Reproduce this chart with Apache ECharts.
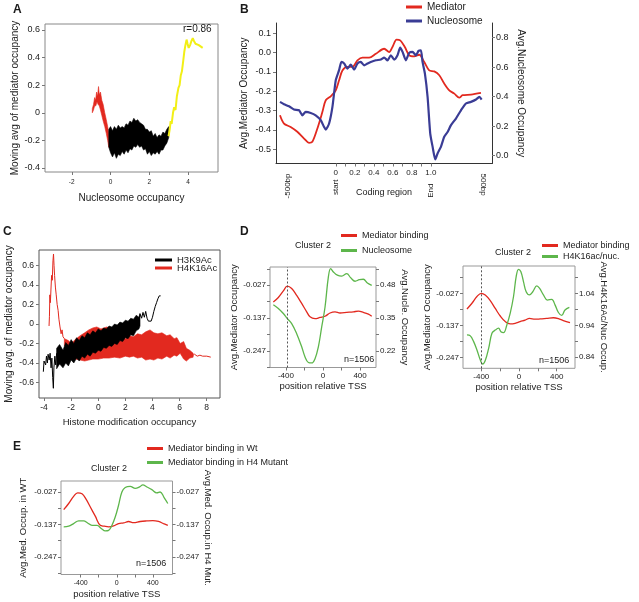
<!DOCTYPE html>
<html><head><meta charset="utf-8">
<script src="https://cdn.jsdelivr.net/npm/echarts@6/dist/echarts.min.js"></script>
<style>html,body{margin:0;padding:0;background:#fff}#c{width:639px;height:602px}</style>
</head><body><div id="c"></div>
<script>
// ---------- Panel A ----------
const A_xTicks = [-2, 0, 2, 4];
const A_xLabels = ['-2', '0', '2', '4'];
const A_yTicks = [-0.4, -0.2, 0, 0.2, 0.4, 0.6];
const A_yLabels = ['-0.4', '-0.2', '0', '0.2', '0.4', '0.6'];
const A_redUpper = [[-0.94,0.03],[-0.88,0.06],[-0.82,0.11],[-0.77,0.09],[-0.72,0.15],[-0.67,0.12],[-0.62,0.19],[-0.58,0.13],[-0.52,0.15],[-0.45,0.09],[-0.38,0.06],[-0.3,0.0],[-0.22,-0.05],[-0.15,-0.1],[-0.09,-0.15]];
const A_redLower = [[-0.94,0.0],[-0.88,0.02],[-0.82,0.05],[-0.76,0.05],[-0.7,0.08],[-0.64,0.06],[-0.58,0.05],[-0.52,0.02],[-0.45,-0.02],[-0.38,-0.06],[-0.3,-0.1],[-0.22,-0.15],[-0.15,-0.2],[-0.09,-0.25]];
const A_blackUpper = [[-0.09,-0.12],[0.0,-0.1],[0.1,-0.13],[0.2,-0.1],[0.3,-0.12],[0.4,-0.09],[0.5,-0.11],[0.6,-0.1],[0.7,-0.11],[0.8,-0.08],[0.9,-0.09],[1.0,-0.06],[1.1,-0.07],[1.2,-0.04],[1.3,-0.06],[1.4,-0.05],[1.5,-0.07],[1.6,-0.08],[1.7,-0.09],[1.8,-0.12],[1.9,-0.12],[2.0,-0.14],[2.1,-0.13],[2.2,-0.17],[2.3,-0.15],[2.4,-0.18],[2.5,-0.16],[2.6,-0.17],[2.7,-0.14],[2.8,-0.15],[2.9,-0.12],[3.0,-0.1]];
const A_blackLower = [[-0.09,-0.25],[0.0,-0.29],[0.1,-0.32],[0.2,-0.29],[0.3,-0.33],[0.4,-0.3],[0.5,-0.31],[0.6,-0.28],[0.7,-0.3],[0.8,-0.27],[0.9,-0.29],[1.0,-0.26],[1.1,-0.27],[1.2,-0.24],[1.3,-0.25],[1.4,-0.23],[1.5,-0.25],[1.6,-0.24],[1.7,-0.27],[1.8,-0.26],[1.9,-0.3],[2.0,-0.28],[2.1,-0.31],[2.2,-0.29],[2.3,-0.3],[2.4,-0.28],[2.5,-0.3],[2.6,-0.27],[2.7,-0.27],[2.8,-0.24],[2.9,-0.22],[3.0,-0.18]];
const A_yellow = [[2.99,-0.17],[3.05,-0.12],[3.1,-0.06],[3.15,-0.08],[3.22,0.0],[3.28,0.04],[3.35,0.02],[3.42,0.12],[3.5,0.18],[3.56,0.2],[3.62,0.27],[3.68,0.3],[3.75,0.38],[3.8,0.44],[3.86,0.49],[3.92,0.53],[3.97,0.5],[4.03,0.47],[4.1,0.49],[4.17,0.52],[4.24,0.54],[4.3,0.52],[4.38,0.5],[4.45,0.5],[4.55,0.49],[4.65,0.48],[4.75,0.47]];

// ---------- Panel B ----------
const B_xTicks = [0,0.1,0.2,0.3,0.4,0.5,0.6,0.7,0.8,0.9,1.0];
const B_xNumVals = [0,0.2,0.4,0.6,0.8,1.0];
const B_xNumLabels = ['0','0.2','0.4','0.6','0.8','1.0'];
const B_leftTicks = [-0.5,-0.4,-0.3,-0.2,-0.1,0,0.1];
const B_leftLabels = ['-0.5','-0.4','-0.3','-0.2','-0.1','0.0','0.1'];
const B_rightTicks = [0,0.2,0.4,0.6,0.8];
const B_rightLabels = ['0.0','0.2','0.4','0.6','0.8'];
const B_mediator = [[-0.586,-0.325],[-0.544,-0.368],[-0.474,-0.385],[-0.404,-0.41],[-0.333,-0.445],[-0.281,-0.467],[-0.246,-0.462],[-0.193,-0.393],[-0.14,-0.307],[-0.105,-0.247],[-0.053,-0.227],[0,-0.196],[0.035,-0.144],[0.07,-0.093],[0.123,-0.075],[0.175,-0.075],[0.228,-0.041],[0.281,-0.027],[0.351,-0.027],[0.421,-0.007],[0.509,0.019],[0.561,0.002],[0.596,0.028],[0.639,0.066],[0.677,0.062],[0.726,0.028],[0.772,-0.015],[0.825,-0.02],[0.877,-0.012],[0.93,-0.05],[0.982,-0.093],[1.035,-0.098],[1.088,-0.118],[1.14,-0.161],[1.193,-0.196],[1.246,-0.213],[1.298,-0.234],[1.333,-0.221],[1.421,-0.218],[1.526,-0.209]];
const B_nucleosome = [[-0.586,0.364],[-0.544,0.348],[-0.491,0.334],[-0.439,0.312],[-0.386,0.307],[-0.351,0.273],[-0.316,0.296],[-0.263,0.289],[-0.211,0.273],[-0.158,0.24],[-0.123,0.194],[-0.105,0.176],[-0.07,0.217],[-0.035,0.33],[0,0.511],[0.035,0.579],[0.06,0.635],[0.088,0.624],[0.123,0.59],[0.158,0.617],[0.193,0.583],[0.228,0.624],[0.263,0.635],[0.298,0.612],[0.333,0.624],[0.368,0.635],[0.421,0.646],[0.474,0.651],[0.509,0.664],[0.544,0.646],[0.579,0.68],[0.614,0.651],[0.649,0.68],[0.677,0.732],[0.702,0.703],[0.737,0.646],[0.772,0.696],[0.807,0.703],[0.842,0.68],[0.87,0.71],[0.895,0.714],[0.912,0.635],[0.937,0.556],[0.965,0.398],[0.993,0.149],[1.018,0.059],[1.046,-0.027],[1.07,0.014],[1.105,0.059],[1.14,0.127],[1.175,0.16],[1.211,0.206],[1.263,0.251],[1.316,0.307],[1.368,0.353],[1.421,0.364],[1.474,0.38],[1.509,0.398],[1.533,0.38]];

// ---------- Panel C ----------
const C_xTicks = [-4,-2,0,2,4,6,8];
const C_xLabels = ['-4','-2','0','2','4','6','8'];
const C_yTicks = [-0.6,-0.4,-0.2,0,0.2,0.4,0.6];
const C_yLabels = ['-0.6','-0.4','-0.2','0','0.2','0.4','0.6'];
const C_redSpike = [[-3.63,-0.02],[-3.6,0.08],[-3.57,0.3],[-3.53,0.22],[-3.49,0.35],[-3.44,0.5],[-3.39,0.45],[-3.34,0.65],[-3.3,0.72],[-3.26,0.6],[-3.22,0.5],[-3.16,0.38],[-3.1,0.3],[-3.03,0.2],[-2.96,0.14],[-2.9,0.05],[-2.82,-0.03],[-2.74,-0.1],[-2.67,-0.06],[-2.6,-0.13],[-2.5,-0.15]];
const C_redUpper = [[-2.5,-0.15],[-2.2,-0.17],[-2.0,-0.2],[-1.7,-0.16],[-1.34,-0.12],[-1.0,-0.09],[-0.7,-0.06],[-0.4,-0.04],[-0.11,-0.03],[0.2,-0.05],[0.63,-0.03],[1.0,-0.05],[1.37,-0.07],[1.7,-0.12],[2.0,-0.15],[2.3,-0.12],[2.59,-0.13],[2.9,-0.1],[3.2,-0.11],[3.5,-0.08],[3.82,-0.06],[4.1,-0.09],[4.4,-0.1],[4.7,-0.09],[5.05,-0.12],[5.3,-0.11],[5.6,-0.15],[5.8,-0.14],[6.04,-0.2],[6.3,-0.18],[6.5,-0.25],[6.75,-0.27],[7.0,-0.3]];
const C_redLower = [[-2.5,-0.22],[-2.2,-0.28],[-2.0,-0.32],[-1.7,-0.36],[-1.34,-0.37],[-1.0,-0.38],[-0.7,-0.37],[-0.4,-0.36],[0,-0.36],[0.4,-0.35],[0.8,-0.35],[1.2,-0.34],[1.6,-0.35],[2.0,-0.33],[2.3,-0.34],[2.59,-0.33],[2.9,-0.35],[3.2,-0.34],[3.5,-0.37],[3.82,-0.36],[4.1,-0.37],[4.4,-0.35],[4.7,-0.36],[5.05,-0.33],[5.3,-0.35],[5.6,-0.32],[5.8,-0.33],[6.04,-0.3],[6.3,-0.36],[6.5,-0.38],[6.75,-0.35],[7.0,-0.34]];
const C_redTail = [[6.9,-0.33],[7.1,-0.31],[7.3,-0.33],[7.5,-0.32],[7.7,-0.33],[8.0,-0.33],[8.3,-0.34]];
const C_blackUpper = [[-3.07,-0.25],[-2.85,-0.21],[-2.6,-0.27],[-2.4,-0.19],[-2.2,-0.22],[-2.0,-0.16],[-1.8,-0.2],[-1.6,-0.14],[-1.4,-0.17],[-1.2,-0.12],[-1.0,-0.14],[-0.8,-0.09],[-0.6,-0.11],[-0.4,-0.07],[-0.2,-0.09],[0.0,-0.05],[0.2,-0.07],[0.4,-0.04],[0.6,-0.05],[0.8,-0.02],[1.0,-0.03],[1.2,0.0],[1.4,-0.01],[1.6,0.02],[1.8,0.01],[2.0,0.04],[2.2,0.03],[2.4,0.06],[2.6,0.05],[2.8,0.09],[3.0,0.07],[3.08,0.11]];
const C_blackLower = [[-3.07,-0.46],[-2.85,-0.41],[-2.6,-0.45],[-2.4,-0.4],[-2.2,-0.43],[-2.0,-0.37],[-1.8,-0.4],[-1.6,-0.35],[-1.4,-0.38],[-1.2,-0.33],[-1.0,-0.35],[-0.8,-0.31],[-0.6,-0.33],[-0.4,-0.29],[-0.2,-0.3],[0.0,-0.27],[0.2,-0.28],[0.4,-0.24],[0.6,-0.25],[0.8,-0.22],[1.0,-0.23],[1.2,-0.2],[1.4,-0.21],[1.6,-0.17],[1.8,-0.18],[2.0,-0.14],[2.2,-0.15],[2.4,-0.11],[2.6,-0.12],[2.8,-0.07],[3.0,-0.05],[3.08,-0.02]];
const C_blackLeft = [[-4.05,-0.49],[-4.0,-0.38],[-3.95,-0.36],[-3.88,-0.42],[-3.82,-0.33],[-3.75,-0.4],[-3.7,-0.31],[-3.62,-0.37],[-3.55,-0.3],[-3.48,-0.45],[-3.42,-0.35],[-3.36,-0.55],[-3.31,-0.66],[-3.27,-0.45],[-3.2,-0.33],[-3.14,-0.42],[-3.07,-0.3]];
const C_blackRight = [[3.0,0.04],[3.1,0.1],[3.2,0.06],[3.3,0.12],[3.4,0.07],[3.5,0.13],[3.6,0.06],[3.7,0.03],[3.8,0.05],[3.9,0.03],[4.0,0.07],[4.1,0.13],[4.2,0.18],[4.3,0.22],[4.4,0.26],[4.5,0.29],[4.6,0.29]];

// ---------- Panels D / E (shared ticks) ----------
const TSS_ticks = [-400,-200,0,200,400];
const TSS_labVals = [-400,0,400];
const TSS_labels = ['-400','0','400'];
const MED_ticks = [-0.302,-0.247,-0.192,-0.137,-0.082,-0.027,0.028];
const MED_labVals = [-0.247,-0.137,-0.027];
const MED_labels = ['-0.247','-0.137','-0.027'];
const D1_nucTicks = [0.22,0.285,0.35,0.415,0.48,0.545];
const D1_nucLabVals = [0.22,0.35,0.48];
const D1_nucLabels = ['0.22','0.35','0.48'];
const D2_acTicks = [0.84,0.89,0.94,0.99,1.04,1.09];
const D2_acLabVals = [0.84,0.94,1.04];
const D2_acLabels = ['0.84','0.94','1.04'];
const D_dashX = [-385, -400];

const D1_mediator = [[-536,-0.083],[-482,-0.068],[-428,-0.046],[-385,-0.03],[-338,-0.038],[-284,-0.061],[-230,-0.088],[-176,-0.116],[-140,-0.133],[-86,-0.139],[-32,-0.135],[22,-0.131],[76,-0.12],[130,-0.116],[184,-0.12],[256,-0.118],[328,-0.116],[382,-0.114],[436,-0.118],[490,-0.124],[526,-0.131]];
const D1_nucleosome = [[-536,0.403],[-482,0.388],[-428,0.368],[-385,0.348],[-338,0.328],[-284,0.288],[-230,0.236],[-194,0.196],[-158,0.174],[-122,0.172],[-86,0.189],[-50,0.236],[-14,0.315],[22,0.394],[58,0.513],[83,0.546],[112,0.533],[155,0.52],[202,0.516],[256,0.526],[299,0.51],[346,0.496],[392,0.502],[436,0.504],[479,0.489],[526,0.48]];
const D2_mediator = [[-552,-0.081],[-499,-0.061],[-446,-0.038],[-400,-0.027],[-358,-0.033],[-305,-0.052],[-252,-0.079],[-199,-0.105],[-146,-0.124],[-93,-0.132],[-41,-0.13],[12,-0.124],[65,-0.119],[111,-0.113],[171,-0.116],[224,-0.115],[294,-0.113],[365,-0.111],[418,-0.114],[470,-0.121],[541,-0.128]];
const D2_h4k16 = [[-552,0.91],[-516,0.907],[-481,0.889],[-446,0.863],[-411,0.832],[-386,0.819],[-358,0.83],[-322,0.868],[-287,0.915],[-252,0.925],[-217,0.931],[-192,0.92],[-164,0.917],[-129,0.941],[-93,0.978],[-58,1.03],[-30,1.092],[-5,1.115],[19,1.108],[48,1.076],[76,1.045],[111,1.035],[146,1.045],[189,1.063],[217,1.056],[259,1.035],[301,1.019],[347,1.021],[382,1.004],[418,0.98],[453,0.971],[488,0.988],[534,0.996]];
const E_wt = [[-588,-0.087],[-533,-0.066],[-478,-0.042],[-433,-0.03],[-385,-0.033],[-337,-0.053],[-293,-0.078],[-238,-0.109],[-183,-0.14],[-138,-0.143],[-90,-0.145],[-35,-0.142],[20,-0.134],[76,-0.132],[131,-0.127],[186,-0.131],[260,-0.127],[334,-0.125],[400,-0.124],[463,-0.127],[518,-0.134],[566,-0.14]];
const E_h4mut = [[-588,-0.145],[-533,-0.143],[-478,-0.134],[-422,-0.125],[-367,-0.125],[-323,-0.132],[-275,-0.14],[-219,-0.14],[-171,-0.151],[-127,-0.159],[-90,-0.157],[-53,-0.14],[-17,-0.112],[20,-0.072],[57,-0.027],[94,-0.012],[149,-0.008],[205,-0.015],[253,-0.01],[289,-0.003],[334,-0.01],[389,-0.019],[444,-0.03],[481,-0.027],[525,-0.046],[566,-0.066]];

// ---------- helpers ----------
const FONT = '"Liberation Sans", Arial, Helvetica, sans-serif';
const RED = '#e2291f', BLUE = '#3a3c95', GREEN = '#5db64b', YELLOW = '#f2ef16', BLACK = '#000';
function lab(vals, texts) {
  return v => { for (let i = 0; i < vals.length; i++) if (Math.abs(vals[i] - v) < 1e-7) return texts[i]; return ''; };
}
function ax(p) {
  const o = {
    type: 'value', gridIndex: p.gi, min: p.min, max: p.max, position: p.pos,
    axisLine: { show: !!p.line, onZero: false, lineStyle: { color: p.lineColor || '#333', width: 1 } },
    splitLine: { show: false },
    axisTick: { show: !!p.ticks, customValues: p.ticks || [], length: p.tickLen || 3, lineStyle: { color: p.tickColor || '#777' } },
    axisLabel: { show: !!p.lv, customValues: p.lv || [], formatter: lab(p.lv || [], p.lt || []), fontSize: p.fs || 8, color: '#222', margin: p.margin == null ? 4 : p.margin, rotate: p.rot || 0, fontFamily: FONT },
    name: p.name || '', nameLocation: 'middle', nameGap: p.gap || 20,
    nameTextStyle: { fontSize: p.nfs || 10, color: '#222', fontFamily: FONT }
  };
  if (p.nameRot != null) o.nameRotate = p.nameRot;
  return o;
}
function band(name, upper, lower, color, xi, yi) {
  const poly = upper.concat(lower.slice().reverse());
  return { type: 'custom', name, xAxisIndex: xi, yAxisIndex: yi, silent: true, itemStyle: { color },
    data: [poly[0]],
    renderItem: (params, api) => ({ type: 'polygon', shape: { points: poly.map(p => api.coord(p)) }, style: { fill: color, stroke: color, lineWidth: 0.6 } }) };
}
function line(name, data, color, xi, yi, w, smooth, extra) {
  return Object.assign({ type: 'line', name, data, xAxisIndex: xi, yAxisIndex: yi, showSymbol: false, symbol: 'none', smooth: smooth || false,
    lineStyle: { color, width: w }, itemStyle: { color }, silent: true, z: 3 }, extra || {});
}
function t(text, left, top, size, bold) {
  return { text, left, top, padding: 0, textStyle: { fontSize: size, fontWeight: bold ? 'bold' : 'normal', color: '#1a1a1a', fontFamily: FONT } };
}
function dash(x) {
  return { silent: true, symbol: 'none', label: { show: false }, lineStyle: { type: [2, 2], color: '#555', width: 1 }, data: [{ xAxis: x }] };
}
function leg(left, top, names, fs, gap, w) {
  return { left, top, padding: 0, orient: 'vertical', itemWidth: w || 16, itemHeight: 3, itemGap: gap, icon: 'rect', selectedMode: false,
    data: names, formatter: n => n.trim(), textStyle: { fontSize: fs, color: '#222', fontFamily: FONT } };
}

const option = {
  animation: false,
  backgroundColor: '#fff',
  title: [
    t('A', 13, 4, 12, true), t('B', 240, 4, 12, true), t('C', 3, 226, 12, true), t('D', 240, 226, 12, true), t('E', 13, 441, 12, true),
    t('r=0.86', 183, 24, 10),
    t('Cluster 2', 295, 241, 9), t('Cluster 2', 495, 248, 9), t('Cluster 2', 91, 464, 9),
    t('n=1506', 344, 355, 9), t('n=1506', 539, 356, 9), t('n=1506', 136, 559, 9)
  ],
  legend: [
    leg(406, 2, ['Mediator', 'Nucleosome'], 10, 4),
    leg(155, 255, ['H3K9Ac', 'H4K16Ac'], 9.5, -2, 17),
    leg(341, 231, ['Mediator binding', 'Nucleosome '], 9, 6),
    leg(542, 241, ['Mediator binding', 'H4K16ac/nuc.'], 9, 2),
    leg(147, 444, ['Mediator binding in Wt', 'Mediator binding in H4 Mutant'], 9, 5)
  ],
  grid: [
    { left: 45, top: 24, width: 173, height: 148, show: true, borderColor: '#888', borderWidth: 1 },
    { left: 276, top: 23, width: 216, height: 140.5, show: false },
    { left: 39, top: 250, width: 181, height: 148, show: true, borderColor: '#555', borderWidth: 1 },
    { left: 270, top: 267, width: 106, height: 100.5, show: true, borderColor: '#999', borderWidth: 1 },
    { left: 463, top: 266, width: 112, height: 102.3, show: true, borderColor: '#999', borderWidth: 1 },
    { left: 61, top: 481, width: 111.5, height: 93.5, show: true, borderColor: '#999', borderWidth: 1 }
  ],
  xAxis: [
    ax({ gi: 0, min: -3.38, max: 5.54, pos: 'bottom', ticks: A_xTicks, lv: A_xTicks, lt: A_xLabels, fs: 6.5, margin: 7, name: 'Nucleosome occupancy', gap: 21, nfs: 10 }),
    ax({ gi: 1, min: -0.628, max: 1.642, pos: 'bottom', line: true, ticks: B_xTicks, lv: B_xNumVals, lt: B_xNumLabels, fs: 8, margin: 5, name: 'Coding region', gap: 25, nfs: 9 }),
    ax({ gi: 1, min: -0.628, max: 1.642, pos: 'bottom', lv: [-0.5], lt: ['-500bp'], fs: 8, rot: 90, margin: 10 }),
    ax({ gi: 1, min: -0.628, max: 1.642, pos: 'bottom', lv: [0], lt: ['start'], fs: 8, rot: 90, margin: 16 }),
    ax({ gi: 1, min: -0.628, max: 1.642, pos: 'bottom', lv: [1.0], lt: ['End'], fs: 8, rot: 90, margin: 20 }),
    ax({ gi: 1, min: -0.628, max: 1.642, pos: 'bottom', lv: [1.55], lt: ['500bp'], fs: 8, rot: -90, margin: 10 }),
    ax({ gi: 2, min: -4.37, max: 8.98, pos: 'bottom', ticks: C_xTicks, lv: C_xTicks, lt: C_xLabels, fs: 8.5, margin: 5, name: 'Histone modification occupancy', gap: 19, nfs: 9.5 }),
    ax({ gi: 3, min: -572, max: 572, pos: 'bottom', ticks: TSS_ticks, lv: TSS_labVals, lt: TSS_labels, fs: 8, margin: 4, name: 'position relative TSS', gap: 14, nfs: 9.5 }),
    ax({ gi: 4, min: -594, max: 594, pos: 'bottom', ticks: TSS_ticks, lv: TSS_labVals, lt: TSS_labels, fs: 8, margin: 4, name: 'position relative TSS', gap: 14, nfs: 9.5 }),
    ax({ gi: 5, min: -618, max: 618, pos: 'bottom', ticks: TSS_ticks, lv: TSS_labVals, lt: TSS_labels, fs: 7, margin: 5, name: 'position relative TSS', gap: 15, nfs: 9.5 })
  ],
  yAxis: [
    ax({ gi: 0, min: -0.429, max: 0.643, pos: 'left', ticks: A_yTicks, lv: A_yTicks, lt: A_yLabels, fs: 9, margin: 5, name: 'Moving avg of mediator occupancy', gap: 23, nfs: 10 }),
    ax({ gi: 1, min: -0.574, max: 0.152, pos: 'left', line: true, ticks: B_leftTicks, lv: B_leftTicks, lt: B_leftLabels, fs: 9, margin: 5, name: 'Avg.Mediator Occupancy', gap: 27, nfs: 10 }),
    ax({ gi: 1, min: -0.054, max: 0.899, pos: 'right', line: true, ticks: B_rightTicks, lv: B_rightTicks, lt: B_rightLabels, fs: 9, margin: 4, name: 'Avg.Nucleosome Occupancy', gap: 24, nfs: 10, nameRot: -90 }),
    ax({ gi: 2, min: -0.76, max: 0.761, pos: 'left', ticks: C_yTicks, lv: C_yTicks, lt: C_yLabels, fs: 8.5, margin: 5, name: 'Moving avg. of mediator occupancy', gap: 25, nfs: 10 }),
    ax({ gi: 3, min: -0.303, max: 0.0344, pos: 'left', ticks: MED_ticks.filter(v => v > -0.303 && v < 0.0344), lv: MED_labVals, lt: MED_labels, fs: 8, margin: 4, name: 'Avg.Mediator Occupancy', gap: 29, nfs: 9.5 }),
    ax({ gi: 3, min: 0.154, max: 0.5525, pos: 'right', ticks: D1_nucTicks, lv: D1_nucLabVals, lt: D1_nucLabels, fs: 8, margin: 4, name: 'Avg.Nucle. Occupancy', gap: 21, nfs: 9.5, nameRot: -90 }),
    ax({ gi: 4, min: -0.2848, max: 0.067, pos: 'left', ticks: MED_ticks.filter(v => v > -0.2848 && v < 0.067), lv: MED_labVals, lt: MED_labels, fs: 8, margin: 4, name: 'Avg.Mediator Occupancy', gap: 30, nfs: 9.5 }),
    ax({ gi: 4, min: 0.8056, max: 1.1254, pos: 'right', ticks: D2_acTicks, lv: D2_acLabVals, lt: D2_acLabels, fs: 8, margin: 4, name: 'Avg.H4K16Ac/Nuc Occup.', gap: 22, nfs: 9.5, nameRot: -90 }),
    ax({ gi: 5, min: -0.3066, max: 0.0102, pos: 'left', ticks: MED_ticks.filter(v => v > -0.3066 && v < 0.0102), lv: MED_labVals, lt: MED_labels, fs: 8, margin: 4, name: 'Avg.Med. Occup. in WT', gap: 33, nfs: 9.5 }),
    ax({ gi: 5, min: -0.3066, max: 0.0102, pos: 'right', ticks: MED_ticks.filter(v => v > -0.3066 && v < 0.0102), lv: MED_labVals, lt: MED_labels, fs: 8, margin: 4, name: 'Avg.Med. Occup.in H4 Mut.', gap: 30, nfs: 9.5, nameRot: -90 })
  ],
  series: [
    // A
    band('A_red', A_redUpper, A_redLower, RED, 0, 0),
    band('A_black', A_blackUpper, A_blackLower, BLACK, 0, 0),
    line('A_yellow', A_yellow, YELLOW, 0, 0, 2),
    // B
    line('Mediator', B_mediator, RED, 1, 1, 1.8, 0.3),
    line('Nucleosome', B_nucleosome, BLUE, 1, 2, 2.2, 0.2),
    // C
    band('H4K16Ac', C_redUpper, C_redLower, RED, 6, 3),
    line('H4K16Ac', C_redSpike, RED, 6, 3, 1),
    line('H4K16Ac', C_redTail, RED, 6, 3, 1),
    band('H3K9Ac', C_blackUpper, C_blackLower, BLACK, 6, 3),
    line('H3K9Ac', C_blackLeft, BLACK, 6, 3, 1),
    line('H3K9Ac', C_blackRight, BLACK, 6, 3, 1),
    // D1
    line('Mediator binding', D1_mediator, RED, 7, 4, 1.3, 0.4, { markLine: dash(D_dashX[0]) }),
    line('Nucleosome ', D1_nucleosome, GREEN, 7, 5, 1.3, 0.4),
    // D2
    line('Mediator binding', D2_mediator, RED, 8, 6, 1.3, 0.4, { markLine: dash(D_dashX[1]) }),
    line('H4K16ac/nuc.', D2_h4k16, GREEN, 8, 7, 1.3, 0.4),
    // E
    line('Mediator binding in Wt', E_wt, RED, 9, 8, 1.3, 0.4),
    line('Mediator binding in H4 Mutant', E_h4mut, GREEN, 9, 9, 1.3, 0.4)
  ]
};
const chart = echarts.init(document.getElementById('c'), null, { renderer: 'canvas' });
chart.setOption(option);
</script></body></html>
